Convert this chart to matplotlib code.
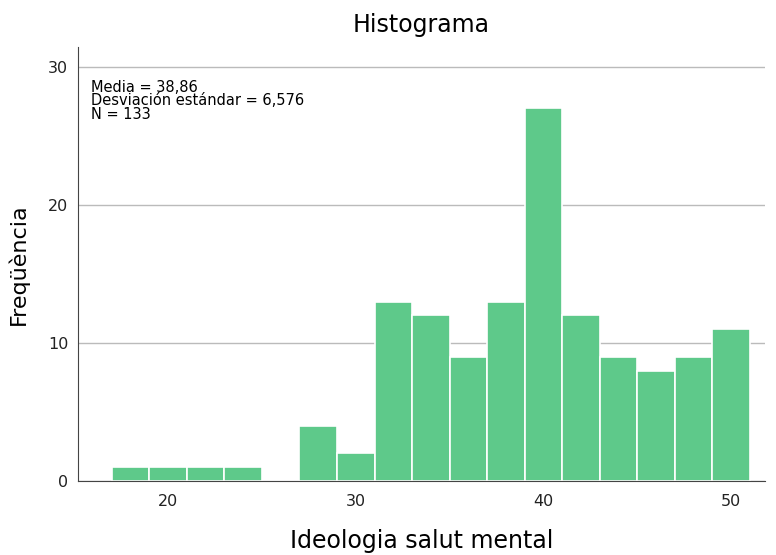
import numpy as np
import matplotlib.pyplot as plt

# histogram bins (width 2) and frequencies
bin_edges = [17, 19, 21, 23, 25, 27, 29, 31, 33, 35, 37, 39, 41, 43, 45, 47, 49, 51]
counts = [1, 1, 1, 1, 0, 4, 2, 13, 12, 9, 13, 27, 12, 9, 8, 9, 11]

stats_text = "Media = 38,86\nDesviación estándar = 6,576\nN = 133"

fig = plt.figure(figsize=(7.76, 5.55), dpi=100)
ax = fig.add_axes([0.1005, 0.1333, 0.8853, 0.782])

ax.hist(bin_edges[:-1], bins=bin_edges, weights=counts,
        color="#5ec98a", edgecolor="white", linewidth=1.2, zorder=3)

ax.set_xlim(15.2, 51.8)
ax.set_ylim(0, 31.45)
ax.set_xticks([20, 30, 40, 50])
ax.set_yticks([0, 10, 20, 30])
ax.tick_params(axis="both", length=0, labelsize=11.5, colors="#222222")
ax.tick_params(axis="x", pad=9)
ax.tick_params(axis="y", pad=7)
ax.grid(axis="y", color="#bbbbbb", linewidth=1, zorder=0)

for s in ["top", "right"]:
    ax.spines[s].set_visible(False)
for s in ["left", "bottom"]:
    ax.spines[s].set_color("#444444")
    ax.spines[s].set_zorder(4)

ax.set_title("Histograma", fontsize=17, pad=10.5)
ax.set_xlabel("Ideologia salut mental", fontsize=17, labelpad=15)
ax.set_ylabel("Freqüència", fontsize=16, labelpad=14)

ax.text(0.019, 0.925, stats_text, transform=ax.transAxes, fontsize=10.5,
        va="top", ha="left", linespacing=0.9, zorder=5)

fig.savefig("out.png", dpi=100)
